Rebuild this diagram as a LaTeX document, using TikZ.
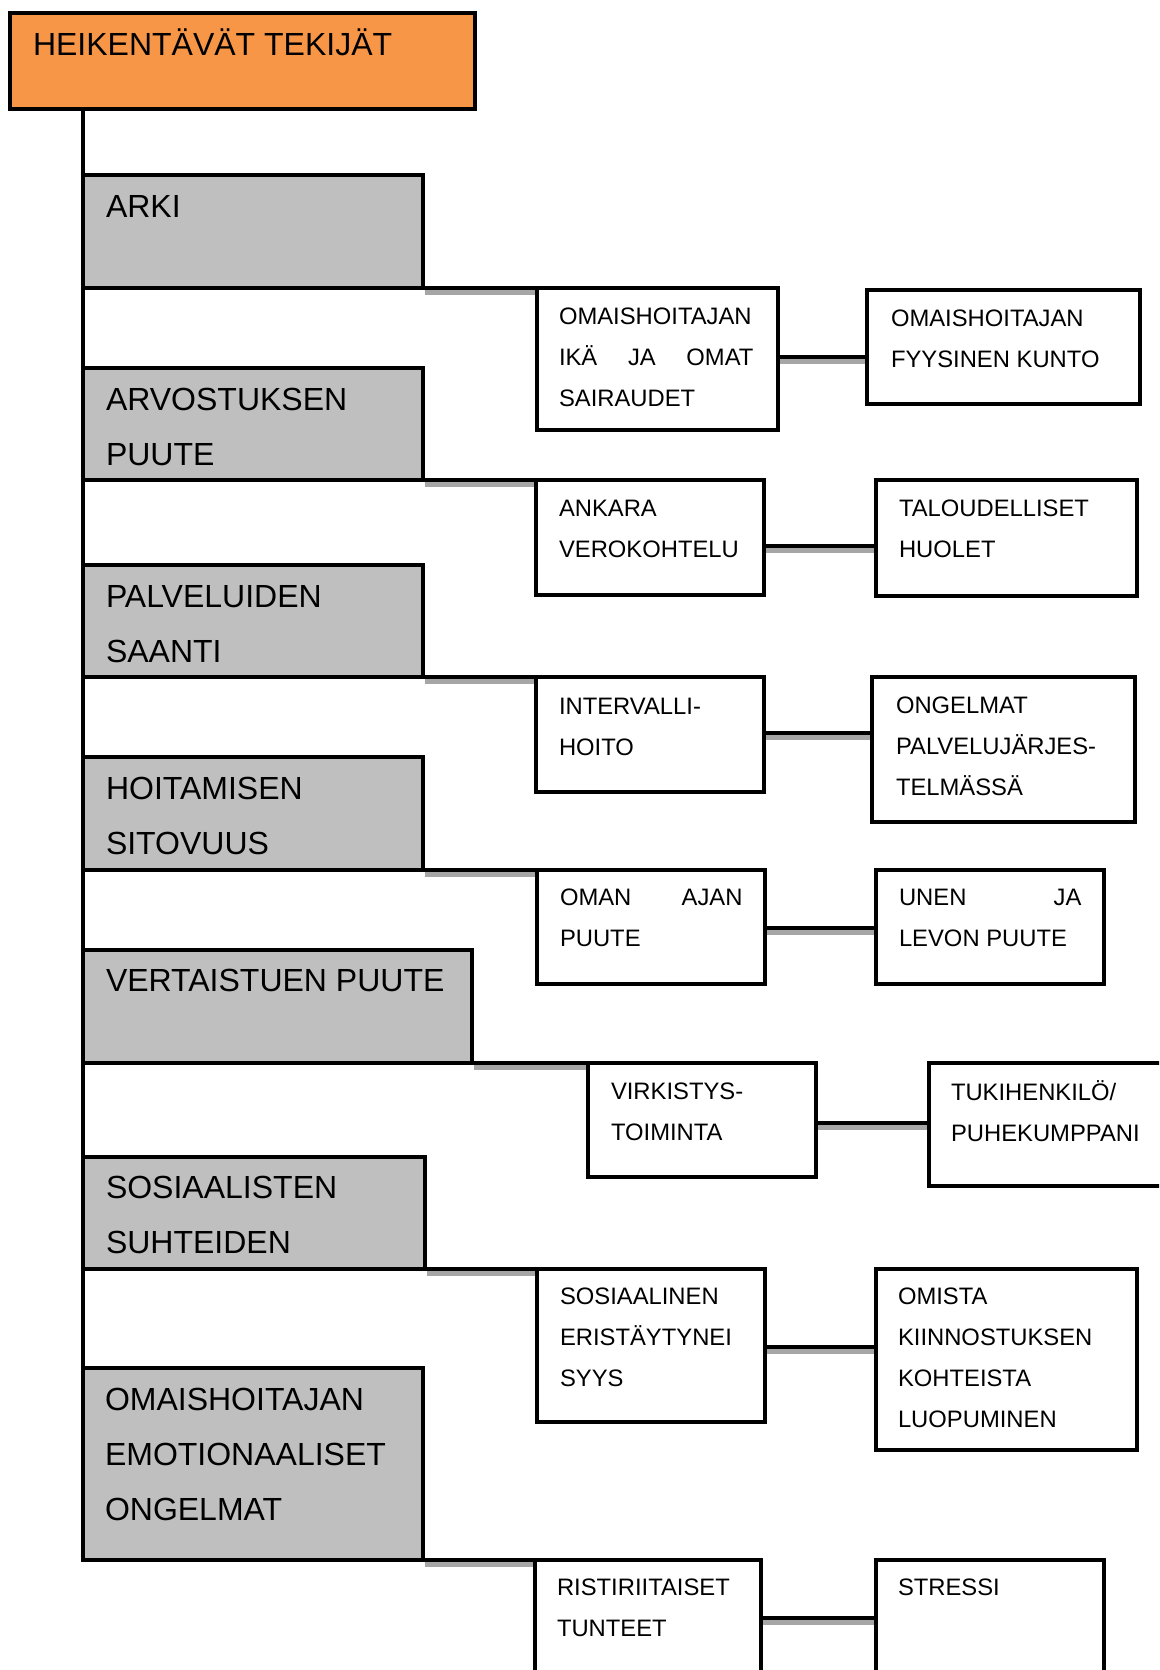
\documentclass[tikz,border=0pt]{standalone}
\usepackage{fontspec}
\setmainfont{Liberation Sans}
\usetikzlibrary{calc,fit}
\definecolor{orangefill}{RGB}{247,150,70}
\definecolor{grayfill}{RGB}{191,191,191}
\definecolor{shadowgray}{RGB}{166,166,166}
\newcommand{\biglines}[1]{\parbox[t]{420pt}{\fontsize{32}{55}\selectfont #1}}
\newcommand{\smlines}[1]{\parbox[t]{300pt}{\fontsize{23.8}{41}\selectfont #1}}
\tikzset{
  basebox/.style={rectangle, draw=black, line width=4.5pt, inner sep=0pt, outer sep=0pt},
  topbox/.style={basebox, fill=orangefill},
  catbox/.style={basebox, fill=grayfill},
  itembox/.style={basebox, fill=white},
  txt/.style={inner sep=0pt, outer sep=0pt, anchor=base west, text=black},
  conn/.style={draw=black, line width=4.5pt, line cap=rect},
  shadowline/.style={draw=shadowgray, line width=4.5pt}
}
\begin{document}
\begin{tikzpicture}[x=1pt,y=-1pt]
\path[use as bounding box] (0,0) rectangle (1159,1670);
\clip (0,0) rectangle (1159,1670);

% top
\node[topbox, fit={(10,13) (475,109)}] (T) {};
\node[txt] (Tt) at ($(T.north west)+(23,43)$) {\biglines{HEIKENTÄVÄT TEKIJÄT}};

% category boxes
\node[catbox, fit={(83,175) (423,288)}] (g1) {};
\node[catbox, fit={(83,368) (423,480)}] (g2) {};
\node[catbox, fit={(83,565) (423,677)}] (g3) {};
\node[catbox, fit={(83,757) (423,870)}] (g4) {};
\node[catbox, fit={(83,950) (472,1063)}] (g5) {};
\node[catbox, fit={(83,1157) (425,1269)}] (g6) {};
\node[catbox, fit={(83,1368) (423,1560)}] (g7) {};

% middle boxes
\node[itembox, fit={(537,288) (778,430)}] (m1) {};
\node[itembox, fit={(536,480) (764,595)}] (m2) {};
\node[itembox, fit={(536,677) (764,792)}] (m3) {};
\node[itembox, fit={(537,870) (765,984)}] (m4) {};
\node[itembox, fit={(588,1063) (816,1177)}] (m5) {};
\node[itembox, fit={(537,1269) (765,1422)}] (m6) {};
\node[itembox, fit={(535,1560) (761,1710)}] (m7) {};

% right boxes
\node[itembox, fit={(867,290) (1140,404)}] (r1) {};
\node[itembox, fit={(876,480) (1137,596)}] (r2) {};
\node[itembox, fit={(872,677) (1135,822)}] (r3) {};
\node[itembox, fit={(876,870) (1104,984)}] (r4) {};
\node[itembox, fit={(929,1063) (1200,1186)}] (r5) {};
\node[itembox, fit={(876,1269) (1137,1450)}] (r6) {};
\node[itembox, fit={(876,1560) (1104,1710)}] (r7) {};

% trunk
\draw[conn] (T.south -| g1.north west) -- (g7.north west);

% category -> middle connectors
\foreach \i in {1,...,7}{
  \draw[shadowline] ([shift={(2,4.5)}]g\i.south east) -- ([shift={(-2,4.5)}]m\i.north west);
  \draw[conn] (g\i.south east) -- (m\i.north west);
}

% middle -> right connectors
\coordinate (cy1) at (0,357);  \coordinate (sy1) at (0,361.5);
\coordinate (cy2) at (0,546);  \coordinate (sy2) at (0,550.5);
\coordinate (cy3) at (0,733);  \coordinate (sy3) at (0,737.5);
\coordinate (cy4) at (0,928);  \coordinate (sy4) at (0,932.5);
\coordinate (cy5) at (0,1123); \coordinate (sy5) at (0,1127.5);
\coordinate (cy6) at (0,1347); \coordinate (sy6) at (0,1351.5);
\coordinate (cy7) at (0,1618); \coordinate (sy7) at (0,1622.5);
\foreach \i in {1,...,7}{
  \draw[shadowline, shorten <=2pt, shorten >=2pt] (m\i.east |- sy\i) -- (r\i.west |- sy\i);
  \draw[conn, line cap=butt] (m\i.east |- cy\i) -- (r\i.west |- cy\i);
}

% category texts
\node[txt] (g1t) at ($(g1.north west)+(23,42)$) {\biglines{ARKI}};
\node[txt] (g2t) at ($(g2.north west)+(23,42)$) {\biglines{ARVOSTUKSEN\\PUUTE}};
\node[txt] (g3t) at ($(g3.north west)+(23,42)$) {\biglines{PALVELUIDEN\\SAANTI}};
\node[txt] (g4t) at ($(g4.north west)+(23,42)$) {\biglines{HOITAMISEN\\SITOVUUS}};
\node[txt] (g5t) at ($(g5.north west)+(23,41)$) {\biglines{VERTAISTUEN PUUTE}};
\node[txt] (g6t) at ($(g6.north west)+(23,41)$) {\biglines{SOSIAALISTEN\\SUHTEIDEN}};
\node[txt] (g7t) at ($(g7.north west)+(22,42)$) {\biglines{OMAISHOITAJAN\\EMOTIONAALISET\\ONGELMAT}};

% middle texts
\node[txt] (m1t) at ($(m1.north west)+(22,36)$) {\smlines{OMAISHOITAJAN\\\makebox[194.4pt][s]{IKÄ JA OMAT}\\SAIRAUDET}};
\node[txt] (m2t) at ($(m2.north west)+(23,36)$) {\smlines{ANKARA\\VEROKOHTELU}};
\node[txt] (m3t) at ($(m3.north west)+(23,37)$) {\smlines{INTERVALLI-\\HOITO}};
\node[txt] (m4t) at ($(m4.north west)+(23,35)$) {\smlines{\makebox[182.5pt][s]{OMAN AJAN}\\PUUTE}};
\node[txt] (m5t) at ($(m5.north west)+(23,36)$) {\smlines{VIRKISTYS-\\TOIMINTA}};
\node[txt] (m6t) at ($(m6.north west)+(23,35)$) {\smlines{SOSIAALINEN\\ERISTÄYTYNEI\\SYYS}};
\node[txt] (m7t) at ($(m7.north west)+(22,35)$) {\smlines{RISTIRIITAISET\\TUNTEET}};

% right texts
\node[txt] (r1t) at ($(r1.north west)+(24,36)$) {\smlines{OMAISHOITAJAN\\FYYSINEN KUNTO}};
\node[txt] (r2t) at ($(r2.north west)+(23,36)$) {\smlines{TALOUDELLISET\\HUOLET}};
\node[txt] (r3t) at ($(r3.north west)+(24,36)$) {\smlines{ONGELMAT\\PALVELUJÄRJES-\\TELMÄSSÄ}};
\node[txt] (r4t) at ($(r4.north west)+(23,35)$) {\smlines{\makebox[182.5pt][s]{UNEN JA}\\LEVON PUUTE}};
\node[txt] (r5t) at ($(r5.north west)+(22,37)$) {\smlines{TUKIHENKILÖ/\\PUHEKUMPPANI}};
\node[txt] (r6t) at ($(r6.north west)+(22,35)$) {\smlines{OMISTA\\KIINNOSTUKSEN\\KOHTEISTA\\LUOPUMINEN}};
\node[txt] (r7t) at ($(r7.north west)+(22,35)$) {\smlines{STRESSI}};
\end{tikzpicture}
\end{document}
